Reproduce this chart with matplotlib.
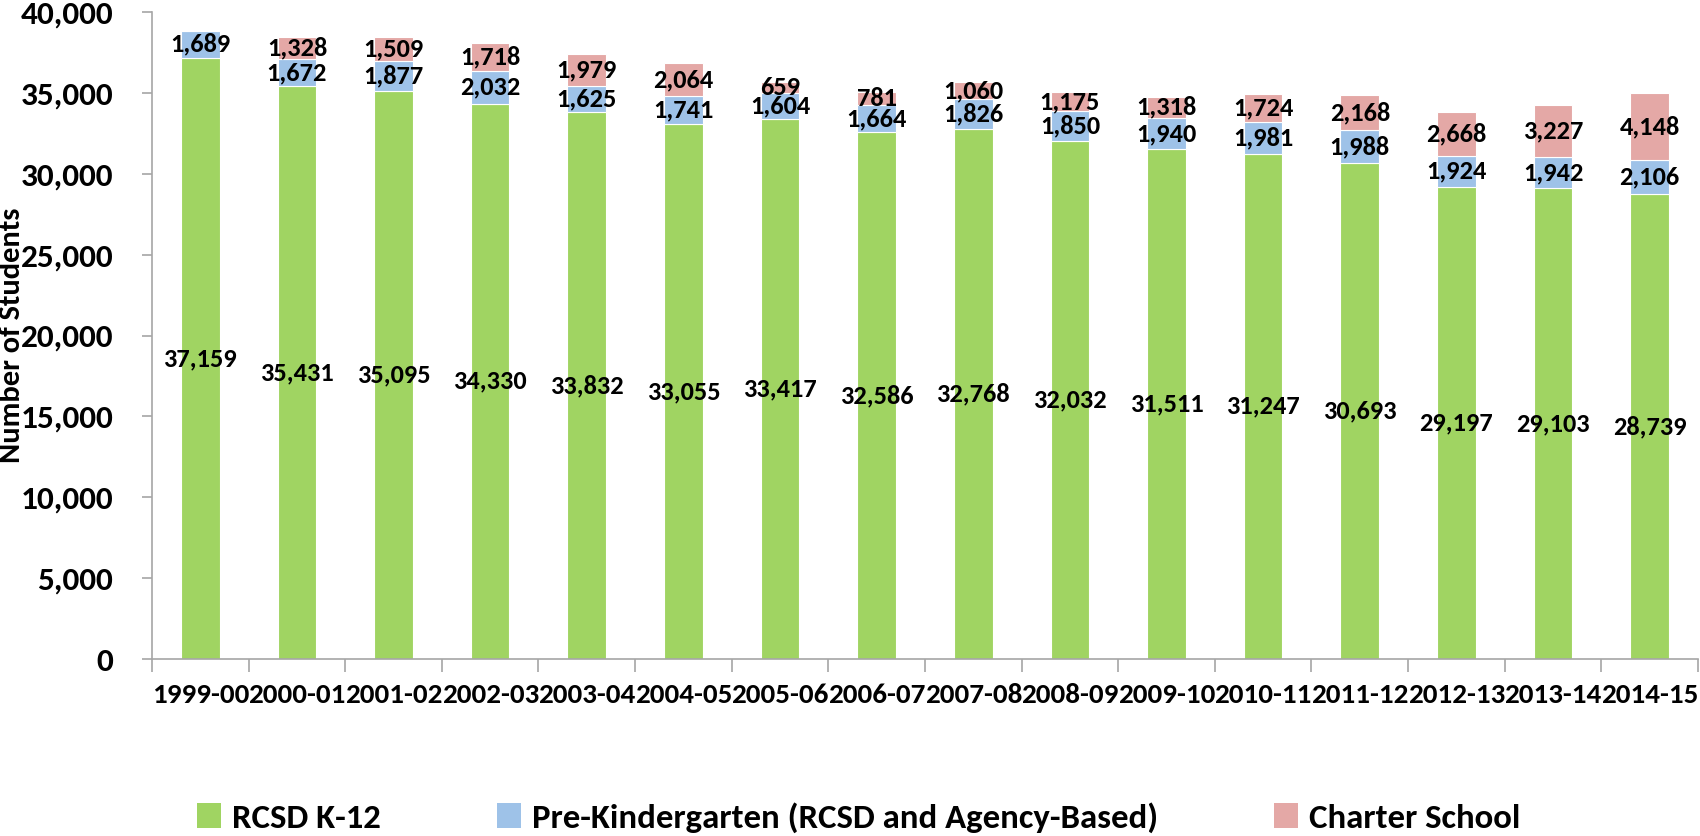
import matplotlib
matplotlib.use("Agg")
import matplotlib.pyplot as plt
import numpy as np
from matplotlib.patches import Patch
from matplotlib.ticker import FuncFormatter, FixedLocator

years = ["1999-00", "2000-01", "2001-02", "2002-03", "2003-04", "2004-05", "2005-06", "2006-07",
         "2007-08", "2008-09", "2009-10", "2010-11", "2011-12", "2012-13", "2013-14", "2014-15"]
k12 = [37159, 35431, 35095, 34330, 33832, 33055, 33417, 32586,
       32768, 32032, 31511, 31247, 30693, 29197, 29103, 28739]
prek = [1689, 1672, 1877, 2032, 1625, 1741, 1604, 1664,
        1826, 1850, 1940, 1981, 1988, 1924, 1942, 2106]
charter = [0, 1328, 1509, 1718, 1979, 2064, 659, 781,
           1060, 1175, 1318, 1724, 2168, 2668, 3227, 4148]

series_names = ["RCSD K-12", "Pre-Kindergarten (RCSD and Agency-Based)", "Charter School"]
colors = ["#A0D462", "#9EC2E8", "#E4A8A6"]

# Calibri look-alike if present, otherwise a condensed sans
plt.rcParams["font.family"] = ["Carlito", "Open Sans Condensed", "DejaVu Sans"]
plt.rcParams["font.weight"] = "bold"

fig = plt.figure(figsize=(17, 8.36), dpi=100)
ax = fig.add_axes([0.0894, 0.2117, 0.9094, 0.7739])

x = np.arange(len(years))
w = 0.4
bottom = np.zeros(len(years))
for vals, col in zip([k12, prek, charter], colors):
    vals = np.array(vals, dtype=float)
    ax.bar(x, vals, w, bottom=bottom, color=col, edgecolor="white", linewidth=0.8)
    for xi, b, v in zip(x, bottom, vals):
        if v > 0:
            ax.text(xi, b + v / 2, f"{int(v):,}", ha="center", va="center",
                    fontsize=19, fontweight="bold", color="black")
    bottom += vals

ax.set_xlim(-0.5, len(years) - 0.5)
ax.set_ylim(0, 40000)
ax.set_yticks(np.arange(0, 40001, 5000))
ax.yaxis.set_major_formatter(FuncFormatter(lambda v, p: f"{int(v):,}"))
ax.tick_params(axis="y", labelsize=24, length=7, width=1.2, color="#A6A6A6", pad=21)

ax.set_xticks(x)
ax.set_xticklabels(years, fontsize=21, fontweight="bold")
ax.tick_params(axis="x", which="major", length=0, pad=17)
ax.xaxis.set_minor_locator(FixedLocator(np.arange(-0.5, len(years), 1.0)))
ax.tick_params(axis="x", which="minor", length=9, width=1.2, color="#A6A6A6")

for s in ["top", "right"]:
    ax.spines[s].set_visible(False)
for s in ["left", "bottom"]:
    ax.spines[s].set_color("#A6A6A6")
    ax.spines[s].set_linewidth(1.2)

ax.set_ylabel("Number of Students", fontsize=22, fontweight="bold")
ax.yaxis.set_label_coords(-0.082, 0.5)

handles = [Patch(facecolor=c, edgecolor="none") for c in colors]
fig.legend(handles, series_names, loc="center", bbox_to_anchor=(0.505, 0.022), ncol=3,
           frameon=False, fontsize=25, handlelength=0.7, handleheight=0.7,
           handletextpad=0.3, columnspacing=3.35)

fig.savefig("out.png", dpi=100)
